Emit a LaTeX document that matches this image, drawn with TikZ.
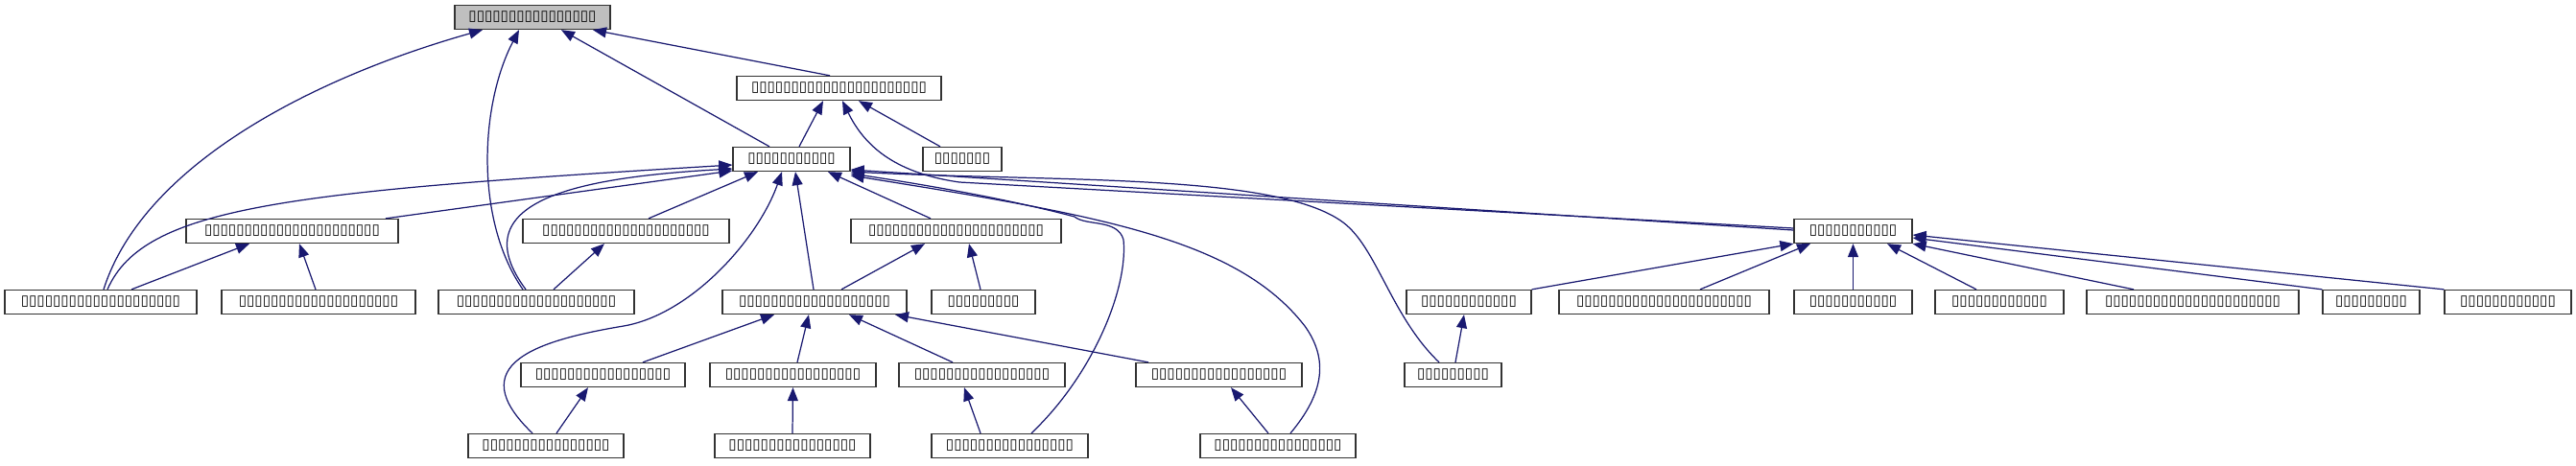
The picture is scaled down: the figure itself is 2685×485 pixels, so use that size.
\documentclass[tikz,border=0pt]{standalone}
\usepackage{fontspec}
\usepackage{tikz}
\usetikzlibrary{arrows.meta, calc}
\newfontfamily\tofufont{DejaVu Sans}
\definecolor{edgeblue}{RGB}{25,25,112}
\newcommand{\boxes}[1]{\foreach \k in {1,...,#1}{▯}}

\begin{document}
\begin{tikzpicture}[x=0.02cm, y=-0.02cm,
        cls/.style={draw=black!80, line width=0.75pt, fill=white, rectangle, minimum height=0.5cm, inner sep=0pt, font=\tofufont\fontsize{8.6}{9}\selectfont},
        inh/.style={{Triangle[length=2.8mm, width=2.2mm]}-, draw=edgeblue, line width=0.7pt}
    ]
        \useasboundingbox (0,0) rectangle (2685,485);

        % Rang 0 bis 2
        \node[cls, fill=black!25, minimum width=3.24cm] (root) at (555,18) {\boxes{16}};
        \node[cls, minimum width=4.26cm] (base) at (874.5,92) {\boxes{22}};
        \node[cls, minimum width=2.44cm] (core) at (825,166) {\boxes{11}};
        \node[cls, minimum width=1.64cm] (tag) at (1003,166) {\boxes{7}};

        % Rang 3
        \node[cls, minimum width=4.42cm] (listv) at (304.5,241) {\boxes{22}};
        \node[cls, minimum width=4.30cm] (panel) at (652.5,241) {\boxes{21}};
        \node[cls, minimum width=4.38cm] (ctrl) at (996.5,241) {\boxes{22}};
        \node[cls, minimum width=2.46cm] (item) at (1931.5,241) {\boxes{11}};

        % Rang 4
        \node[cls, minimum width=4.00cm] (listx) at (105,315) {\boxes{20}};
        \node[cls, minimum width=4.04cm] (listy) at (332,315) {\boxes{20}};
        \node[cls, minimum width=4.08cm] (panelx) at (559,315) {\boxes{20}};
        \node[cls, minimum width=3.84cm] (widget) at (849,315) {\boxes{19}};
        \node[cls, minimum width=2.16cm] (ctrlx) at (1025,315) {\boxes{9}};
        \node[cls, minimum width=2.60cm] (itemb) at (1531,315) {\boxes{12}};
        \node[cls, minimum width=4.38cm] (itemc) at (1734.5,315) {\boxes{22}};
        \node[cls, minimum width=2.46cm] (itemd) at (1931.5,315) {\boxes{11}};
        \node[cls, minimum width=2.68cm] (iteme) at (2084,315) {\boxes{12}};
        \node[cls, minimum width=4.42cm] (itemf) at (2285.5,315) {\boxes{22}};
        \node[cls, minimum width=2.02cm] (itemg) at (2471.5,315) {\boxes{9}};
        \node[cls, minimum width=2.64cm] (itemh) at (2614,315) {\boxes{12}};

        % Rang 5 und 6
        \node[cls, minimum width=3.42cm] (wa) at (628.5,391) {\boxes{17}};
        \node[cls, minimum width=3.46cm] (wb) at (826.5,391) {\boxes{17}};
        \node[cls, minimum width=3.46cm] (wc) at (1023.5,391) {\boxes{17}};
        \node[cls, minimum width=3.46cm] (wd) at (1270.5,391) {\boxes{17}};
        \node[cls, minimum width=2.02cm] (itemx) at (1514.5,391) {\boxes{9}};
        \node[cls, minimum width=3.24cm] (waa) at (569,465) {\boxes{16}};
        \node[cls, minimum width=3.24cm] (wbb) at (826,465) {\boxes{16}};
        \node[cls, minimum width=3.26cm] (wcc) at (1052.5,465) {\boxes{16}};
        \node[cls, minimum width=3.24cm] (wdd) at (1332,465) {\boxes{16}};

        % Vererbung, Pfeil am Elternknoten
        \draw[inh] (root.south -| 618,0) -- (base.north -| 865,0);
        \draw[inh] (root.south -| 585,0) -- (core.north -| 802,0);
        \draw[inh] (root.south -| 503,0) .. controls (330,80) and (150,170) .. (listx.north -| 108,0);
        \draw[inh] (root.south -| 541,0) .. controls (500,110) and (495,230) .. (panelx.north -| 545,0);
        \draw[inh] (base.south -| 858,0) -- (core.north -| 833,0);
        \draw[inh] (base.south -| 895,0) -- (tag.north -| 980,0);
        \draw[inh] (base.south -| 878,0) .. controls (900,150) and (930,180) .. (1000,190) -- (item.west |- 0,238);

        \draw[inh] (core.west |- 0,172) .. controls (300,200) and (150,215) .. (listx.north -| 112,0);
        \draw[inh] (core.west |- 0,178) -- (listv.north -| 402,0);
        \draw[inh] (core.west |- 0,176) .. controls (600,185) and (480,210) .. (panelx.north -| 548,0);
        \draw[inh] (core.south -| 790,0) -- (panel.north -| 676,0);
        \draw[inh] (core.south -| 815,0) .. controls (790,250) and (720,328) .. (650,340)
            .. controls (560,355) and (480,380) .. (waa.north -| 555,0);
        \draw[inh] (core.south -| 829,0) -- (widget.north -| 848,0);
        \draw[inh] (core.south -| 863,0) -- (ctrl.north -| 970,0);
        \draw[inh] (core.east |- 0,177) -- (item.west |- 0,240);
        \draw[inh] (core.east |- 0,179) .. controls (1100,190) and (1330,180) .. (1400,232)
            .. controls (1435,258) and (1450,330) .. (itemx.north -| 1500,0);
        \draw[inh] (core.east |- 0,181) .. controls (980,195) and (1060,210) .. (1120,226)
            .. controls (1132,236) and (1165,228) .. (1171,250)
            .. controls (1176,300) and (1140,390) .. (wcc.north -| 1075,0);
        \draw[inh] (core.east |- 0,183) .. controls (1150,225) and (1290,250) .. (1360,340)
            .. controls (1385,375) and (1380,410) .. (wdd.north -| 1345,0);

        \draw[inh] (listv.south -| 260,0) -- (listx.north -| 137,0);
        \draw[inh] (listv.south -| 312,0) -- (listy.north -| 329,0);
        \draw[inh] (panel.south -| 630,0) -- (panelx.north -| 577,0);
        \draw[inh] (ctrl.south -| 964,0) -- (widget.north -| 877,0);
        \draw[inh] (ctrl.south -| 1010,0) -- (ctrlx.north -| 1022,0);

        \draw[inh] (item.south west) -- (itemb.north east);
        \draw[inh] (item.south -| 1887,0) -- (itemc.north -| 1772,0);
        \draw[inh] (item.south) -- (itemd.north);
        \draw[inh] (item.south -| 1967,0) -- (iteme.north -| 2060,0);
        \draw[inh] (item.south east) -- (itemf.north -| 2224,0);
        \draw[inh] (item.east |- 0,248) -- (itemg.north west);
        \draw[inh] (item.east |- 0,245) -- (itemh.north west);

        \draw[inh] (widget.south -| 807,0) -- (wa.north -| 670,0);
        \draw[inh] (widget.south -| 843,0) -- (wb.north -| 831,0);
        \draw[inh] (widget.south -| 885,0) -- (wc.north -| 993,0);
        \draw[inh] (widget.south -| 933,0) -- (wd.north -| 1197,0);
        \draw[inh] (itemb.south -| 1526,0) -- (itemx.north -| 1517,0);

        \draw[inh] (wa.south -| 613,0) -- (waa.north -| 580,0);
        \draw[inh] (wb.south) -- (wbb.north);
        \draw[inh] (wc.south -| 1005,0) -- (wcc.north -| 1022,0);
        \draw[inh] (wd.south -| 1283,0) -- (wdd.north -| 1322,0);
    \end{tikzpicture}
\end{document}
